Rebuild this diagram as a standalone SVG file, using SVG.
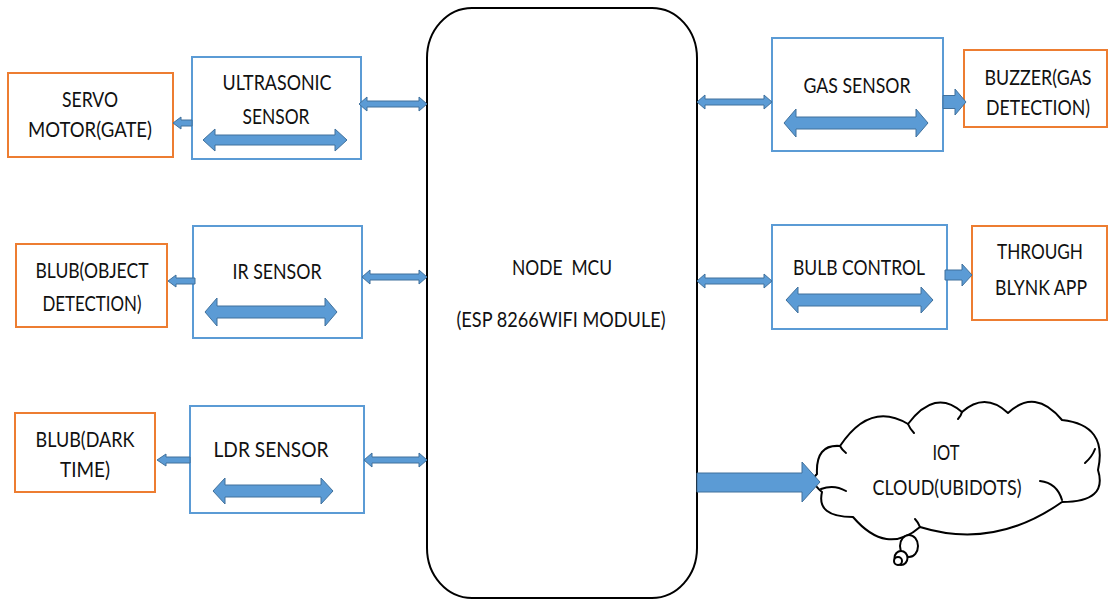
<svg xmlns="http://www.w3.org/2000/svg" width="1108" height="600" viewBox="0 0 1108 600">
  <style>
    .sensor { fill: #ffffff; stroke: #5B9BD5; stroke-width: 2; }
    .output { fill: #ffffff; stroke: #ED7D31; stroke-width: 2; }
    .mcu { fill: #ffffff; stroke: #000000; stroke-width: 2; }
    .arrow { fill: #5B9BD5; stroke: #41719C; stroke-width: 1; }
    .cloud { fill: #ffffff; stroke: #000000; stroke-width: 2; stroke-linejoin: round; }
    .cloud-line { fill: none; stroke: #000000; stroke-width: 2; stroke-linecap: round; }
    text { font-family: Lato, "Open Sans", "Liberation Sans", sans-serif; font-size: 21px; fill: #111111; text-anchor: middle; }
  </style>
  <rect width="1108" height="600" fill="#ffffff"/>

  <!-- central controller -->
  <g id="node-mcu">
    <rect class="mcu" x="427" y="8" width="270" height="590" rx="45" ry="50"/>
    <text x="562" y="275" textLength="100" lengthAdjust="spacingAndGlyphs" xml:space="preserve">NODE  MCU</text>
    <text x="561" y="327" textLength="209" lengthAdjust="spacingAndGlyphs">(ESP 8266WIFI MODULE)</text>
  </g>

  <!-- left column: sensors and their outputs -->
  <g id="servo-motor">
    <rect class="output" x="8" y="73" width="165" height="84"/>
    <text x="90" y="107" textLength="56" lengthAdjust="spacingAndGlyphs">SERVO</text>
    <text x="90" y="137" textLength="124" lengthAdjust="spacingAndGlyphs">MOTOR(GATE)</text>
  </g>
  <g id="ultrasonic-sensor">
    <rect class="sensor" x="192" y="57" width="169" height="102"/>
    <text x="277" y="90" textLength="109" lengthAdjust="spacingAndGlyphs">ULTRASONIC</text>
    <text x="276" y="124" textLength="67" lengthAdjust="spacingAndGlyphs">SENSOR</text>
    <polygon class="arrow" points="203,140 215,129 215,135 335,135 335,129 347,140 335,151 335,145 215,145 215,151"/>
  </g>

  <g id="blub-object">
    <rect class="output" x="16" y="244" width="151" height="83"/>
    <text x="92" y="278" textLength="113" lengthAdjust="spacingAndGlyphs">BLUB(OBJECT</text>
    <text x="92" y="311" textLength="99" lengthAdjust="spacingAndGlyphs">DETECTION)</text>
  </g>
  <g id="ir-sensor">
    <rect class="sensor" x="193" y="226" width="169" height="112"/>
    <text x="277" y="279" textLength="89" lengthAdjust="spacingAndGlyphs">IR SENSOR</text>
    <polygon class="arrow" points="205,312 217,298 217,306 325,306 325,298 337,312 325,326 325,318 217,318 217,326"/>
  </g>

  <g id="blub-dark">
    <rect class="output" x="15" y="413" width="140" height="79"/>
    <text x="85" y="447" textLength="99" lengthAdjust="spacingAndGlyphs">BLUB(DARK</text>
    <text x="85" y="477" textLength="50" lengthAdjust="spacingAndGlyphs">TIME)</text>
  </g>
  <g id="ldr-sensor">
    <rect class="sensor" x="190" y="406" width="174" height="107"/>
    <text x="271" y="457" textLength="115" lengthAdjust="spacingAndGlyphs">LDR SENSOR</text>
    <polygon class="arrow" points="213,491 225,478 225,485 321,485 321,478 333,491 321,504 321,497 225,497 225,504"/>
  </g>

  <!-- right column: sensors and their outputs -->
  <g id="gas-sensor">
    <rect class="sensor" x="772" y="38" width="171" height="113"/>
    <text x="857" y="93" textLength="107" lengthAdjust="spacingAndGlyphs">GAS SENSOR</text>
    <polygon class="arrow" points="784,123 796,109 796,117 916,117 916,109 928,123 916,137 916,129 796,129 796,137"/>
  </g>
  <g id="buzzer">
    <rect class="output" x="964" y="50" width="143" height="77"/>
    <text x="1038" y="85" textLength="107" lengthAdjust="spacingAndGlyphs">BUZZER(GAS</text>
    <text x="1038" y="115" textLength="104" lengthAdjust="spacingAndGlyphs">DETECTION)</text>
  </g>

  <g id="bulb-control">
    <rect class="sensor" x="772" y="225" width="175" height="104"/>
    <text x="859" y="275" textLength="132" lengthAdjust="spacingAndGlyphs">BULB CONTROL</text>
    <polygon class="arrow" points="786,300 798,287 798,294 921,294 921,287 933,300 921,313 921,306 798,306 798,313"/>
  </g>
  <g id="blynk-app">
    <rect class="output" x="972" y="226" width="135" height="94"/>
    <text x="1040" y="259" textLength="86" lengthAdjust="spacingAndGlyphs">THROUGH</text>
    <text x="1041" y="295" textLength="92" lengthAdjust="spacingAndGlyphs">BLYNK APP</text>
  </g>

  <!-- cloud service -->
  <g id="iot-cloud">
    <path class="cloud" d="M817,474 Q815.5,444 840,446 Q870,401 908,424 Q935,388 962,412 Q985,391.5 1008,413 Q1035,387.5 1062,420 Q1108,425 1098,470 Q1108,502 1062,502 Q994,550 920,527 Q886.5,556 853,517 Q816,517 822,492 Q808.5,481 817,474 Z"/>
    <path class="cloud-line" d="M821,489 Q834,484 846,491"/>
    <path class="cloud-line" d="M1040,481 Q1057,483 1062,500"/>
    <path class="cloud-line" d="M1085,463 Q1092,457 1095,449"/>
    <path class="cloud-line" d="M908,424 Q910,429 914,433"/>
    <path class="cloud-line" d="M962,412 Q961,416 958,419"/>
    <path class="cloud-line" d="M840,446 Q842,450 846,453"/>
    <path class="cloud-line" d="M920,527 Q918,522 915,519"/>
    <ellipse class="cloud" cx="909" cy="546" rx="9" ry="11"/>
    <ellipse class="cloud" cx="901" cy="558" rx="6.5" ry="7"/>
    <ellipse class="cloud" cx="898" cy="561" rx="4" ry="4"/>
    <text x="946" y="460" textLength="27" lengthAdjust="spacingAndGlyphs">IOT</text>
    <text x="947" y="495" textLength="149" lengthAdjust="spacingAndGlyphs">CLOUD(UBIDOTS)</text>
  </g>

  <!-- connectors -->
  <g id="connectors">
    <!-- sensor links to the controller -->
    <polygon class="arrow" points="359,104 367,97 367,101 419,101 419,97 427,104 419,111 419,107 367,107 367,111"/>
    <polygon class="arrow" points="362,277 370,270 370,274 419,274 419,270 427,277 419,284 419,280 370,280 370,284"/>
    <polygon class="arrow" points="364,460 372,453 372,457 419,457 419,453 427,460 419,467 419,463 372,463 372,467"/>
    <polygon class="arrow" points="697,102 705,95 705,99 764,99 764,95 772,102 764,109 764,105 705,105 705,109"/>
    <polygon class="arrow" points="697,281 705,274 705,278 764,278 764,274 772,281 764,288 764,284 705,284 705,288"/>
    <!-- sensor outputs -->
    <polygon class="arrow" points="173,123 181,117 181,120 192,120 192,126 181,126 181,129"/>
    <polygon class="arrow" points="168,281 176,275 176,278 195,278 195,284 176,284 176,287"/>
    <polygon class="arrow" points="157,460 166,454 166,457 190,457 190,463 166,463 166,466"/>
    <polygon class="arrow" points="943,95.5 955,95.5 955,89 966,102 955,115 955,108.5 943,108.5"/>
    <polygon class="arrow" points="945,270 962,270 962,264 972,275 962,286 962,280 945,280"/>
    <!-- controller to cloud -->
    <polygon class="arrow" points="697,473 802,473 802,462 820,482 802,502 802,492 697,492"/>
  </g>
</svg>
